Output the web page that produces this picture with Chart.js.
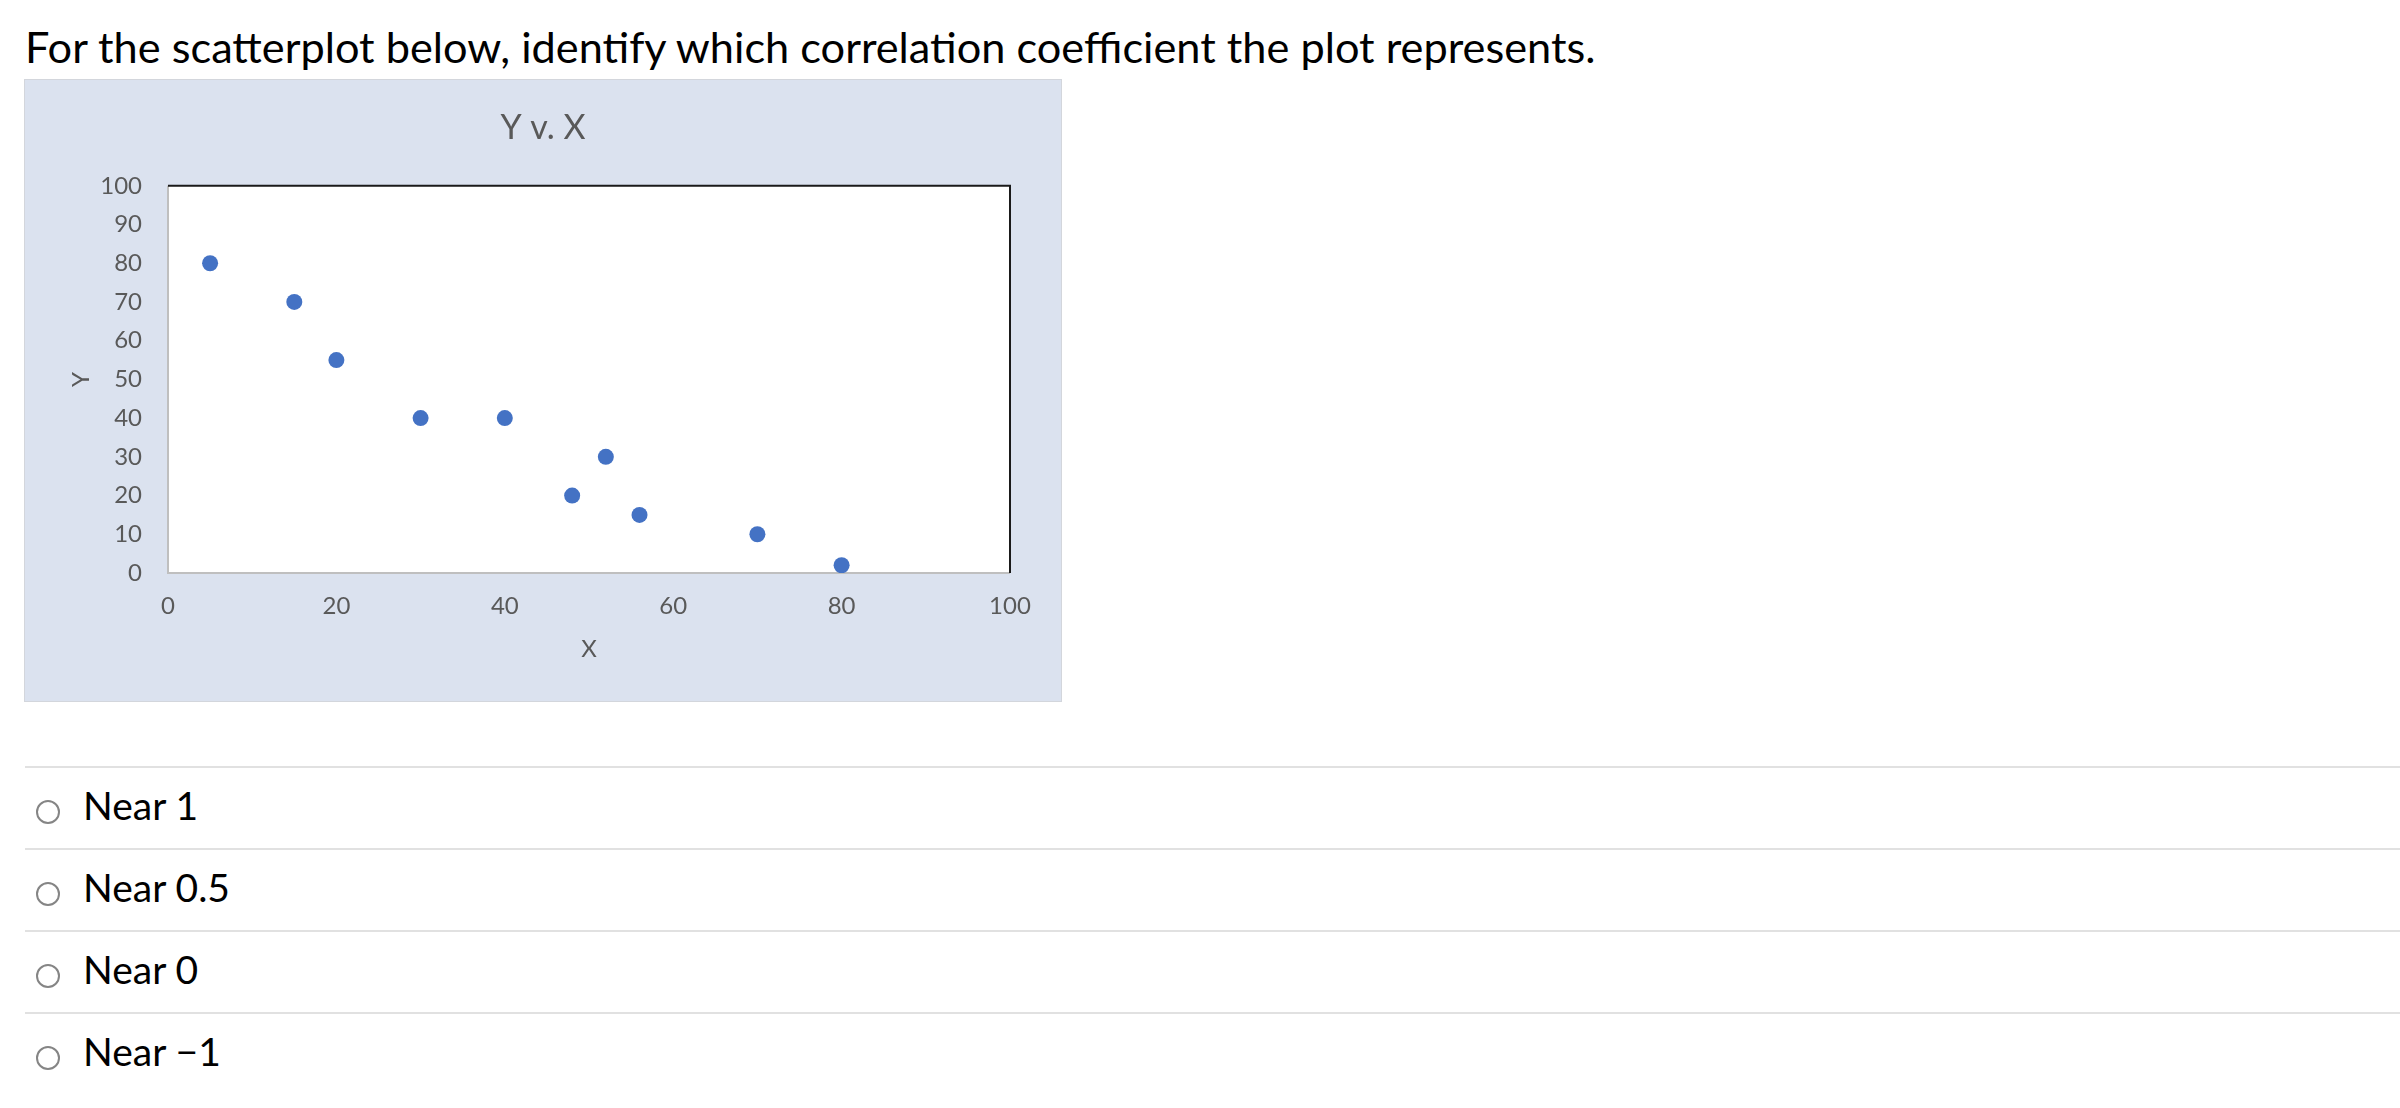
<!DOCTYPE html>
<html>
<head>
<meta charset="utf-8">
<title>Y v. X</title>
<script src="https://cdn.jsdelivr.net/npm/chart.js@4.4.1/dist/chart.umd.min.js"></script>
<style>
    body {
        margin: 0;
        background: #ffffff;
        font-family: Lato, "Open Sans", sans-serif;
        color: #000000;
    }
    .question {
        position: absolute;
        left: 25px;
        top: 21px;
        font-size: 43.3px;
        line-height: 1.2;
        white-space: nowrap;
    }
    .panel {
        position: absolute;
        left: 24px;
        top: 79px;
        width: 1036px;
        height: 621px;
        background: #dbe2ef;
        border: 1px solid #d3d6dc;
    }
    .panel canvas {
        position: absolute;
        left: 0;
        top: 0;
    }
    .rule {
        position: absolute;
        left: 25px;
        right: 0;
        height: 2px;
        background: #e1e1e1;
    }
    .option {
        position: absolute;
        left: 83px;
        font-size: 39px;
        line-height: 1.2;
        white-space: nowrap;
    }
    .radio {
        position: absolute;
        left: 36px;
        width: 20px;
        height: 20px;
        border: 2px solid #858585;
        border-radius: 50%;
        background: #ffffff;
    }
</style>
</head>
<body>
<div class="question">For the scatterplot below, identify which correlation coefficient the plot represents.</div>
<div class="panel"><canvas id="scatterChart" width="1036" height="621"></canvas></div>
<div id="answers"></div>

<script>
// Data
const xValues = [5, 15, 20, 30, 40, 48, 52, 56, 70, 80]
const yValues = [80, 70, 55, 40, 40, 20, 30, 15, 10, 2]
const chartTitle = "Y v. X"
const xAxisTitle = "X"
const yAxisTitle = "Y"
const answerLabels = ["Near 1", "Near 0.5", "Near 0", "Near \u22121"]

const points = xValues.map((x, i) => ({ x: x, y: yValues[i] }))

// white plot area, black top/right edge like the Excel chart
const plotFrame = {
    id: "plotFrame",
    beforeDatasetsDraw(chart) {
        const { ctx, chartArea } = chart
        ctx.save()
        ctx.fillStyle = "#ffffff"
        ctx.fillRect(chartArea.left, chartArea.top, chartArea.width, chartArea.height)
        ctx.strokeStyle = "#bfbfbf"
        ctx.lineWidth = 2
        ctx.beginPath()
        ctx.moveTo(chartArea.left, chartArea.top)
        ctx.lineTo(chartArea.left, chartArea.bottom)
        ctx.lineTo(chartArea.right, chartArea.bottom)
        ctx.stroke()
        ctx.strokeStyle = "#1a1a1a"
        ctx.beginPath()
        ctx.moveTo(chartArea.left, chartArea.top)
        ctx.lineTo(chartArea.right, chartArea.top)
        ctx.lineTo(chartArea.right, chartArea.bottom)
        ctx.stroke()
        ctx.restore()
    },
}

const labelColor = "#595959"
const chartFont = "Lato"

const scatterChart = new Chart(document.getElementById("scatterChart"), {
    type: "scatter",
    data: {
        datasets: [
            {
                data: points,
                backgroundColor: "#4472c4",
                borderWidth: 0,
                pointRadius: 8,
                pointHoverRadius: 8,
            },
        ],
    },
    options: {
        responsive: false,
        animation: false,
        layout: {
            padding: 0,
        },
        plugins: {
            legend: { display: false },
            tooltip: { enabled: false },
            title: {
                display: true,
                text: chartTitle,
                color: labelColor,
                font: { family: chartFont, size: 34, weight: "normal" },
                padding: { top: 28, bottom: 37 },
            },
        },
        scales: {
            x: {
                type: "linear",
                min: 0,
                max: 100,
                grid: { display: false, drawTicks: false },
                border: { display: false },
                ticks: {
                    stepSize: 20,
                    color: labelColor,
                    padding: 19,
                    font: { family: chartFont, size: 24 },
                },
                title: {
                    display: true,
                    text: xAxisTitle,
                    color: labelColor,
                    font: { family: chartFont, size: 24 },
                    padding: { top: 0, bottom: 37 },
                },
                afterFit: (scale) => {
                    scale.height = 128
                },
            },
            y: {
                type: "linear",
                min: 0,
                max: 100,
                grid: { display: false, drawTicks: false },
                border: { display: false },
                ticks: {
                    stepSize: 10,
                    color: labelColor,
                    padding: 26,
                    font: { family: chartFont, size: 24 },
                },
                title: {
                    display: true,
                    text: yAxisTitle,
                    color: labelColor,
                    font: { family: chartFont, size: 24 },
                    padding: { top: 42, bottom: 0 },
                },
                afterFit: (scale) => {
                    scale.width = 143
                },
            },
            // empty right-hand axis: keeps the margin right of the plot area
            yRight: {
                type: "linear",
                position: "right",
                min: 0,
                max: 100,
                grid: { display: false, drawTicks: false },
                border: { display: false },
                ticks: { display: false },
                afterFit: (scale) => {
                    scale.width = 51
                },
            },
        },
    },
    plugins: [plotFrame],
})

// Answer list
const answers = document.getElementById("answers")
answerLabels.forEach((label, i) => {
    const rowTop = 767 + i * 82
    const rule = document.createElement("div")
    rule.className = "rule"
    rule.style.top = rowTop - 1 + "px"
    answers.appendChild(rule)

    const radio = document.createElement("div")
    radio.className = "radio"
    radio.style.top = rowTop + 33 + "px"
    answers.appendChild(radio)

    const text = document.createElement("div")
    text.className = "option"
    text.style.top = rowTop + 15 + "px"
    text.textContent = label
    answers.appendChild(text)
})
</script>
</body>
</html>
